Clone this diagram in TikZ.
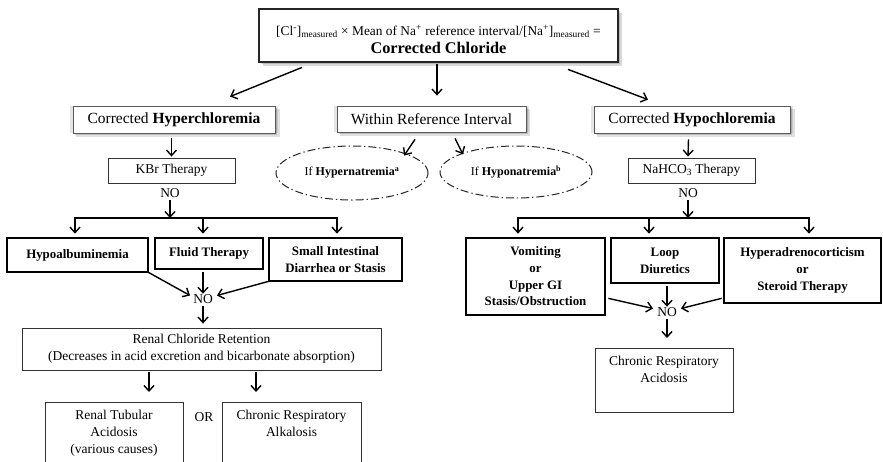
\documentclass[tikz,border=0pt]{standalone}
\usepackage{fontspec}
\setmainfont{Liberation Serif}
\usetikzlibrary{arrows.meta,shapes.geometric,shadows}
\tikzset{
  arr/.style={-{Straight Barb[length=5.5pt,width=10pt,line width=1.4pt]}, line width=1.4pt},
  plain/.style={line width=1.4pt},
  thinbox/.style={draw=black!80, line width=0.9pt, inner sep=0pt, align=center, fill=white,
    font=\fontsize{13.5}{16.7}\selectfont},
  boldbox/.style={draw=black, line width=2.7pt, inner sep=0pt, align=center, fill=white,
    font=\bfseries\fontsize{12.9}{16.7}\selectfont},
  lvltwo/.style={draw=black!65, line width=0.8pt, inner sep=0pt, align=center, fill=white,
    font=\fontsize{15.5}{18}\selectfont,
    general shadow={fill=black, opacity=0.12, shadow xshift=3.5pt, shadow yshift=-3.5pt, shadow scale=1.01},
    general shadow={fill=black, opacity=0.15, shadow xshift=2pt, shadow yshift=-2pt},
    general shadow={fill=black, opacity=0.10, shadow xshift=0pt, shadow yshift=0pt, shadow scale=1.03}},
  topbox/.style={draw=black!85, line width=2.8pt, inner sep=0pt, align=center, fill=white,
    general shadow={fill=black, opacity=0.15, shadow xshift=3.5pt, shadow yshift=-3.5pt},
    general shadow={fill=black, opacity=0.15, shadow xshift=1.8pt, shadow yshift=-1.8pt}},
  ell/.style={ellipse, draw=black!85, line width=1pt, dash pattern=on 8pt off 3pt on 1.3pt off 3pt,
    inner sep=0pt, font=\fontsize{12}{14}\selectfont},
  notext/.style={inner sep=2pt, font=\fontsize{13.5}{16}\selectfont},
}
\begin{document}
\begin{tikzpicture}[x=1pt,y=-1pt]
\useasboundingbox (0,0) rectangle (883,461);
\clip (0,0) rectangle (883,461);
\fill[white] (0,0) rectangle (883,461);

% top
\node[topbox, minimum width=359pt, minimum height=53pt] (top) at (438.5,35.5)
  {\fontsize{13.4}{18}\selectfont\rule{0pt}{18pt}[Cl\textsuperscript{-}]\textsubscript{measured} × Mean of Na\textsuperscript{+} reference interval/[Na\textsuperscript{+}]\textsubscript{measured} =\\[3.5pt]
   \fontsize{16.3}{18}\selectfont\bfseries Corrected Chloride};

% level 2
\node[lvltwo, minimum width=202pt, minimum height=27pt] (hyper) at (174,119.5) {Corrected \textbf{Hyperchloremia}};
\node[lvltwo, minimum width=189pt, minimum height=26pt] (within) at (431.5,119) {Within Reference Interval};
\node[lvltwo, minimum width=196pt, minimum height=27pt] (hypo) at (692,119.5) {Corrected \textbf{Hypochloremia}};

\draw[arr] ([xshift=-136.5pt,yshift=-4pt]top.south) -- ([xshift=56pt,yshift=9pt]hyper.north);
\draw[arr] ([xshift=-1.5pt,yshift=-1pt]top.south) -- ([xshift=5.5pt,yshift=10pt]within.north);
\draw[arr] ([xshift=129.5pt,yshift=-6pt]top.south) -- ([xshift=-44pt,yshift=6pt]hypo.north);

% ellipses
\node[ell, minimum width=152pt, minimum height=54pt] (e1) at (352,173) {If \textbf{Hypernatremia}\textsuperscript{\bfseries a}};
\node[ell, minimum width=152pt, minimum height=52pt] (e2) at (516,172) {If \textbf{Hyponatremia}\textsuperscript{\bfseries b}};
\draw[arr] ([xshift=-16.5pt,yshift=-7pt]within.south) -- ([xshift=-2pt,yshift=-2pt]e1.north east);
\draw[arr] ([xshift=23.5pt,yshift=-6pt]within.south) -- ([xshift=1pt,yshift=-1pt]e2.north west);

% left branch
\node[thinbox, minimum width=127pt, minimum height=25pt] (kbr) at (171.5,170.5) {KBr Therapy};
\draw[arr] ([yshift=-5pt]kbr.north |- hyper.south) -- ([yshift=1pt]kbr.north);
\node[notext] (no1) at (170,193.5) {NO};
\coordinate (j1) at (170,218);
\coordinate (b1l) at (75,218);
\coordinate (b1m) at (203,218);
\coordinate (b1r) at (337,218);
\draw[arr] (no1.south) -- (j1);
\draw[plain] ([xshift=-0.7pt]b1l) -- ([xshift=0.7pt]b1r);

\node[boldbox, minimum width=141pt, minimum height=34pt] (alb) at (77.5,255) {Hypoalbuminemia};
\node[boldbox, minimum width=108pt, minimum height=31pt] (fluid) at (209,253.5) {Fluid Therapy};
\node[boldbox, minimum width=133pt, minimum height=43pt] (sid) at (335.5,259.5) {Small Intestinal\\Diarrhea or Stasis};
\draw[arr] (b1l) -- ([yshift=3pt]b1l |- alb.north);
\draw[arr] (b1m) -- ([yshift=3pt]b1m |- fluid.north);
\draw[arr] (b1r) -- ([yshift=3pt]b1r |- sid.north);

\node[notext] (no3) at (203,299.5) {NO};
\draw[arr] ([xshift=-1pt,yshift=1pt]alb.south east) -- ([xshift=-1pt,yshift=4pt]no3.west);
\draw[arr] ([yshift=-2pt]no3.north |- fluid.south) -- ([yshift=-1pt]no3.north);
\draw[arr] ([xshift=1pt,yshift=1pt]sid.south west) -- ([xshift=2pt,yshift=4pt]no3.east);

\node[thinbox, minimum width=359pt, minimum height=42pt] (rcr) at (201.5,349) {Renal Chloride Retention\\(Decreases in acid excretion and bicarbonate absorption)};
\draw[arr] (no3.south) -- ([yshift=4pt]no3.south |- rcr.north);

\node[thinbox, minimum width=138pt, minimum height=80pt, anchor=north] (rta) at (114,402)
  {\parbox[c][80pt][t]{138pt}{\centering\vspace{8pt}Renal Tubular\\Acidosis\\(various causes)}};
\node[thinbox, minimum width=139pt, minimum height=80pt, anchor=north] (cra) at (291.5,402)
  {\parbox[c][80pt][t]{139pt}{\centering\vspace{8pt}Chronic Respiratory\\Alkalosis}};
\node[notext] (or) at (204,417) {OR};
\draw[arr] ([xshift=-52.5pt,yshift=-2pt]rcr.south) -- ([xshift=35pt,yshift=10pt]rta.north);
\draw[arr] ([xshift=54.5pt,yshift=-2pt]rcr.south) -- ([xshift=-35.5pt,yshift=10pt]cra.north);

% right branch
\node[thinbox, minimum width=127pt, minimum height=25pt] (nah) at (691.5,170.5) {NaHCO\textsubscript{3} Therapy};
\draw[arr] ([xshift=-3.5pt,yshift=-6pt]hypo.south) -- ([xshift=-3.5pt,yshift=1pt]nah.north);
\node[notext] (no2) at (688,193.5) {NO};
\coordinate (j2) at (688,218);
\coordinate (b2l) at (518,218);
\coordinate (b2m) at (649,218);
\coordinate (b2r) at (809,218);
\draw[arr] (no2.south) -- (j2);
\draw[plain] ([xshift=-0.7pt]b2l) -- ([xshift=0.7pt]b2r);

\node[boldbox, minimum width=139pt, minimum height=77pt] (vom) at (535.5,276.5) {Vomiting\\or\\Upper GI\\Stasis/Obstruction};
\node[boldbox, minimum width=108pt, minimum height=45pt] (loop) at (665,260.5) {Loop\\Diuretics};
\node[boldbox, minimum width=157pt, minimum height=65pt] (hac) at (802.5,270.5) {Hyperadrenocorticism\\or\\Steroid Therapy};
\draw[arr] (b2l) -- ([yshift=3pt]b2l |- vom.north);
\draw[arr] (b2m) -- ([yshift=3pt]b2m |- loop.north);
\draw[arr] (b2r) -- ([yshift=3pt]b2r |- hac.north);

\node[notext] (no4) at (667,312.5) {NO};
\draw[arr] ([xshift=2pt,yshift=18pt]vom.south east) -- ([xshift=-2pt,yshift=4pt]no4.west);
\draw[arr] ([yshift=-2pt]no4.north |- loop.south) -- ([yshift=-1pt]no4.north);
\draw[arr] ([xshift=-1pt,yshift=6pt]hac.south west) -- ([xshift=2pt,yshift=4pt]no4.east);

\node[thinbox, minimum width=138pt, minimum height=64pt, anchor=north] (cac) at (664,348)
  {\parbox[c][64pt][t]{138pt}{\centering\vspace{8pt}Chronic Respiratory\\Acidosis}};
\draw[arr] (no4.south) -- ([yshift=10pt]no4.south |- cac.north);
\end{tikzpicture}
\end{document}
